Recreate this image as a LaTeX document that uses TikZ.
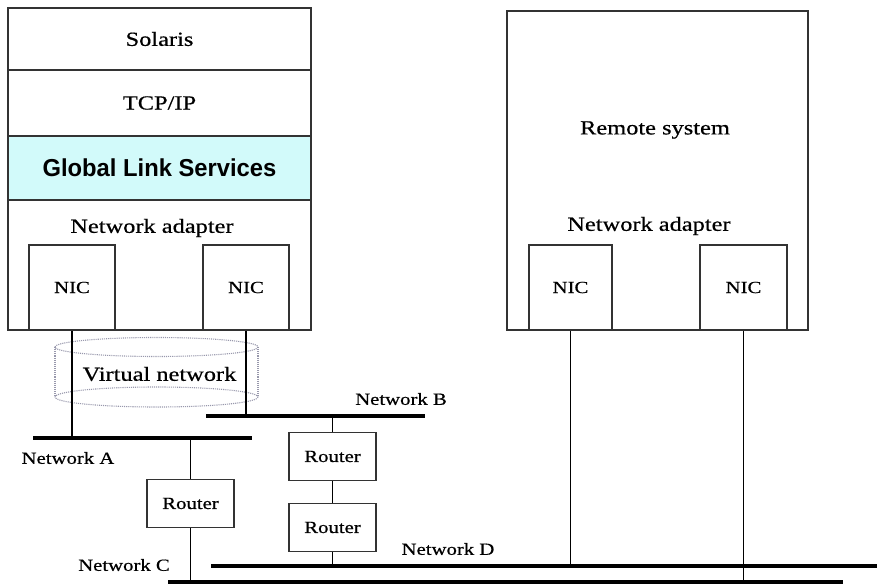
\documentclass[tikz,border=0pt]{standalone}
\usepackage{fontspec}
\setmainfont{Liberation Serif}[FakeStretch=1.22,FakeBold=0.6]
\newfontfamily\glsfont{Liberation Sans}[FakeStretch=0.97]
\definecolor{glscyan}{HTML}{D2FAFA}
\definecolor{frame}{HTML}{333333}
\definecolor{vnet}{HTML}{9898AC}
\tikzset{
  x=1pt, y=-1pt,
  boxline/.style={draw=frame, line width=1.5pt},
  layer/.style={boxline, rectangle, inner sep=0pt, minimum width=303pt, font=\fontsize{20}{24}\selectfont},
  nic/.style={boxline, rectangle, inner sep=0pt, minimum width=86pt, minimum height=85pt, font=\fontsize{17}{20}\selectfont},
  router/.style={draw=frame, line width=1.4pt, rectangle, inner sep=0pt, minimum width=87pt, minimum height=48pt, font=\fontsize{17}{20}\selectfont},
  bar/.style={fill=black, rectangle, inner sep=0pt, minimum height=4.5pt},
  big/.style={inner sep=0pt, font=\fontsize{20}{24}\selectfont},
  lbl/.style={inner sep=0pt, font=\fontsize{17}{20}\selectfont},
  link/.style={draw=black, line width=1.5pt}
}
\begin{document}
\begin{tikzpicture}
\useasboundingbox (0,0) rectangle (877,585);
% left system
\node[layer, minimum height=62pt] (sol) at (159.5,39) {Solaris};
\node[layer, minimum height=66pt] (tcp) at (159.5,103) {TCP/IP};
\node[layer, minimum height=64pt, fill=glscyan, font=\glsfont\bfseries\fontsize{24.5}{28}\selectfont] (gls) at (159.5,168) {Global Link Services};
\node[layer, minimum height=130pt] (adL) at (159.5,265) {};
\node[big] (adLt) at (152,228) {Network adapter};
\node[nic] (nicL1) at (72,287.5) {NIC};
\node[nic] (nicL2) at (246,287.5) {NIC};
% remote system
\node[boxline, rectangle, inner sep=0pt, minimum width=301pt, minimum height=319pt] (rem) at (657.5,170.5) {};
\node[big] (remt) at (655,130) {Remote system};
\node[big] (adRt) at (649,226) {Network adapter};
\node[nic, minimum width=83pt] (nicR1) at (570.5,287.5) {NIC};
\node[nic, minimum width=87pt] (nicR2) at (743.5,287.5) {NIC};
% virtual network
\draw[vnet, densely dotted, line width=1.1pt] (55,347) -- (55,397) (258,347) -- (258,397);
\draw[vnet, densely dotted, line width=1.1pt] (156.5,347) ellipse [x radius=101.5, y radius=9.5];
\draw[vnet, densely dotted, line width=1.1pt] (156.5,397) ellipse [x radius=101.5, y radius=10];
\node[big] (vnt) at (159.5,374) {Virtual network};
% networks
\node[bar, minimum width=219pt] (netA) at (142.5,438) {};
\node[bar, minimum width=219pt] (netB) at (315.5,416) {};
\node[bar, minimum width=666pt] (netD) at (544,566) {};
\node[bar, minimum width=675pt] (netC) at (505.5,582) {};
\node[lbl] (labA) at (68,458) {Network A};
\node[lbl] (labB) at (401,399) {Network B};
\node[lbl] (labC) at (124,565) {Network C};
\node[lbl] (labD) at (448,549) {Network D};
% routers
\node[router] (r1) at (190.5,503.5) {Router};
\node[router] (r2) at (332.5,456.5) {Router};
\node[router] (r3) at (332.5,527.5) {Router};
% connectors
\draw[link] (nicL1.south) -- (nicL1.south |- netA.north);
\draw[link] (nicL2.south) -- (nicL2.south |- netB.north);
\draw[link] (r1.north |- netA.south) -- (r1.north);
\draw[link] (r1.south) -- (r1.south |- netC.north);
\draw[link] (r2.north |- netB.south) -- (r2.north);
\draw[link] (r2.south) -- (r3.north);
\draw[link] (r3.south) -- (r3.south |- netD.north);
\draw[link] (nicR1.south) -- (nicR1.south |- netD.north);
\draw[link] (nicR2.south) -- (nicR2.south |- netC.north);
\end{tikzpicture}
\end{document}
